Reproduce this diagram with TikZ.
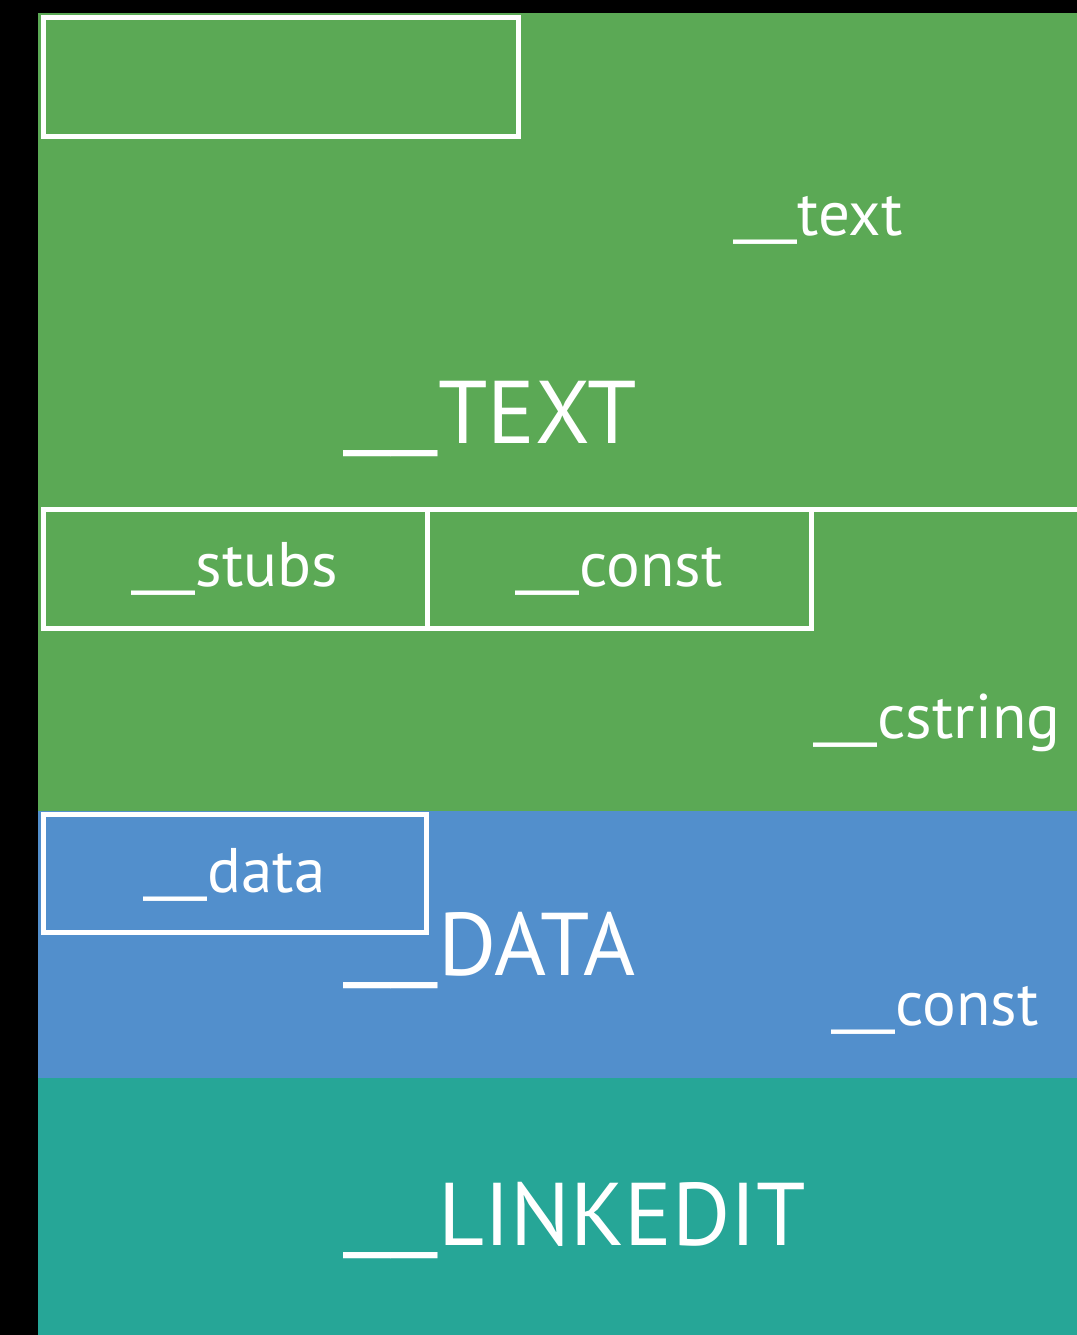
\documentclass[tikz,border=0pt]{standalone}
\usepackage{fontspec}
\setmainfont{PT Sans}
\usetikzlibrary{calc}
\definecolor{textgreen}{RGB}{91,169,85}
\definecolor{datablue}{RGB}{82,143,204}
\definecolor{linkteal}{RGB}{38,166,151}
% leading double underscore, stretched to a given width and lifted slightly
\newcommand\lead[1]{\raisebox{0.05em}{\resizebox*{#1}{\totalheight}{\_\_}}}

\begin{document}
\begin{tikzpicture}[x=0.5pt,y=-0.5pt,
  sect/.style={draw=white,line width=2.5pt,inner sep=0pt,outer sep=0pt,
    minimum width=#1*0.5pt,minimum height=59.5pt},
  rule/.style={draw=white,line width=2.5pt},
  small/.style={text=white,inner sep=0pt,font=\fontsize{31.5}{31.5}\selectfont},
  big/.style={text=white,inner sep=0pt,anchor=base west,font=\fontsize{44.5}{44.5}\selectfont}]
\useasboundingbox (0,0) rectangle (1077,1335);

% segment backgrounds
\fill[black] (0,0) rectangle (1077,1335);
\fill[textgreen] (38,13) rectangle (1077,811);
\fill[datablue] (38,811) rectangle (1077,1078);
\fill[linkteal] (38,1078) rectangle (1077,1335);

% section boxes
\node[sect=475] (header) at (280.5,77) {};
\node[sect=384] (stubs) at (235,568.5) {};
\node[sect=384] (constA) at (619,568.5) {};
\node[sect=383,minimum height=59pt] (data) at (234.5,873) {};
\coordinate (rightedge) at (1077,509);
\draw[rule] (constA.north east) -- (rightedge);

% section labels
\node[small,anchor=base] (stubslbl) at ($(stubs.center)+(0,17.5)$) {\lead{32pt}stubs};
\node[small,anchor=base] (constAlbl) at ($(constA.center)+(0,17.5)$) {\lead{32pt}const};
\node[small,anchor=base] (datalbl) at ($(data.center)+(0,19)$) {\lead{32pt}data};
\node[small,anchor=base west] (textlbl) at (733,235) {\lead{32pt}text};
\node[small,anchor=base west] (cstringlbl) at (813,738) {\lead{32pt}cstring};
\node[small,anchor=base west] (constBlbl) at (831,1025) {\lead{32pt}const};

% segment labels
\node[big] (TEXTlbl) at (343,443) {\lead{47.5pt}TEXT};
\node[big] (DATAlbl) at (343,975) {\lead{47.5pt}DATA};
\node[big] (LINKEDITlbl) at (343,1245) {\lead{47.5pt}LINKEDIT};
\end{tikzpicture}
\end{document}
